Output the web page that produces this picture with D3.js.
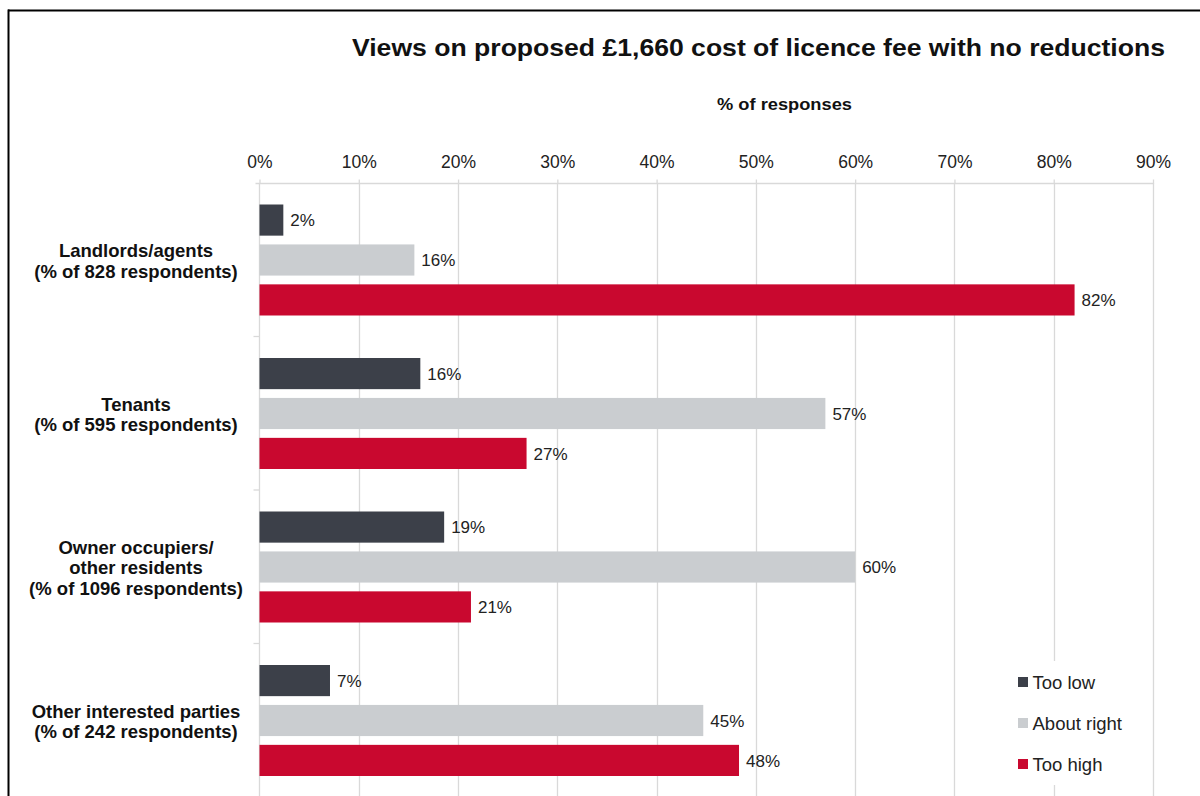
<!DOCTYPE html>
<html>
<head>
<meta charset="utf-8">
<script src="https://cdn.jsdelivr.net/npm/d3@7"></script>
<style>
  html, body { margin: 0; padding: 0; background: #fff; }
  svg { display: block; font-family: "Liberation Sans", Arial, sans-serif; }
</style>
</head>
<body>
<svg id="chart" width="1200" height="796"></svg>
<script>
const title = "Views on proposed £1,660 cost of licence fee with no reductions";
const axisTitle = "% of responses";
const categories = [
  ["Landlords/agents", "(% of 828 respondents)"],
  ["Tenants", "(% of 595 respondents)"],
  ["Owner occupiers/", "other residents", "(% of 1096 respondents)"],
  ["Other interested parties", "(% of 242 respondents)"]
];
const categoryKeys = ["Landlords", "Tenants", "Owners", "Other"];
const seriesNames = ["Too low", "About right", "Too high"];
const seriesColors = ["#3c4049", "#cacdd0", "#c9082f"];
const tooLow = [2.4, 16.2, 18.6, 7.1];
const aboutRight = [15.6, 57.0, 60.0, 44.7];
const tooHigh = [82.1, 26.9, 21.3, 48.3];
const labelsTooLow = ["2%", "16%", "19%", "7%"];
const labelsAboutRight = ["16%", "57%", "60%", "45%"];
const labelsTooHigh = ["82%", "27%", "21%", "48%"];
const xTicks = [0, 10, 20, 30, 40, 50, 60, 70, 80, 90];

const seriesValues = [tooLow, aboutRight, tooHigh];
const seriesLabels = [labelsTooLow, labelsAboutRight, labelsTooHigh];

const svg = d3.select("#chart");

// frame
svg.append("line").attr("x1", 8).attr("x2", 1200).attr("y1", 10.5).attr("y2", 10.5)
  .attr("stroke", "#000").attr("stroke-width", 2);
svg.append("line").attr("x1", 8.5).attr("x2", 8.5).attr("y1", 9.5).attr("y2", 796)
  .attr("stroke", "#000").attr("stroke-width", 2);

const x = d3.scaleLinear().domain([0, 90]).range([259.5, 1153]);
const y0 = d3.scaleBand().domain(categoryKeys).range([183, 797]).padding(0);
const y1 = d3.scaleBand().domain(seriesNames)
  .range([21.5, y0.bandwidth() - 21]).paddingInner(0.22).paddingOuter(0);

// title
svg.append("text").attr("x", 352).attr("y", 56)
  .attr("font-size", 23).attr("font-weight", "bold").attr("fill", "#111")
  .attr("textLength", 813).attr("lengthAdjust", "spacingAndGlyphs").text(title);
svg.append("text").attr("x", 717).attr("y", 110)
  .attr("font-size", 17).attr("font-weight", "bold").attr("fill", "#111")
  .attr("textLength", 135).attr("lengthAdjust", "spacingAndGlyphs").text(axisTitle);

// gridlines
svg.append("g").selectAll("line").data(xTicks.slice(1)).join("line")
  .attr("x1", d => Math.round(x(d)) + 0.5).attr("x2", d => Math.round(x(d)) + 0.5)
  .attr("y1", 183).attr("y2", 796)
  .attr("stroke", "#d9d9d9").attr("stroke-width", 1.3);

// x axis (top)
const xAxis = d3.axisTop(x).tickValues(xTicks).tickFormat(d => d + "%").tickSize(4).tickSizeOuter(0);
const gx = svg.append("g").attr("transform", "translate(0,183.5)").call(xAxis);
gx.select(".domain").attr("stroke", "#d9d9d9").attr("stroke-width", 1.3)
  .attr("d", `M${x(0) - 4},0H${x(90)}`);
gx.selectAll(".tick line").attr("stroke", "#d9d9d9").attr("stroke-width", 1.3);
gx.selectAll(".tick text").attr("font-size", 17.5).attr("fill", "#222")
  .attr("font-family", "Liberation Sans, Arial, sans-serif").attr("dy", "-0.5em");

// y axis
const gy = svg.append("g").attr("transform", `translate(${x(0)},0)`);
gy.append("line").attr("x1", 0).attr("x2", 0).attr("y1", 183).attr("y2", 796)
  .attr("stroke", "#d9d9d9").attr("stroke-width", 1.3);
const boundaries = categoryKeys.map(k => y0(k)).concat([y0.range()[1]]);
gy.selectAll("line.b").data(boundaries.slice(1, 4)).join("line").attr("class", "b")
  .attr("x1", -6).attr("x2", 0).attr("y1", d => d).attr("y2", d => d)
  .attr("stroke", "#d9d9d9").attr("stroke-width", 1.3);

// category labels
categoryKeys.forEach((k, i) => {
  const lines = categories[i];
  const cy = y0(k) + y0.bandwidth() / 2;
  const lh = 20.5;
  const t = svg.append("text").attr("text-anchor", "middle").attr("font-size", 18.5)
    .attr("font-weight", "bold").attr("fill", "#111");
  lines.forEach((ln, j) => {
    t.append("tspan").attr("x", 136)
      .attr("y", cy + (j - (lines.length - 1) / 2) * lh + 7.5).text(ln);
  });
});

// legend background
svg.append("rect").attr("x", 1005).attr("y", 661).attr("width", 135).attr("height", 124).attr("fill", "#fff");

// bars
categoryKeys.forEach((k, i) => {
  const g = svg.append("g").attr("transform", `translate(0,${y0(k)})`);
  seriesNames.forEach((s, j) => {
    const v = seriesValues[j][i];
    g.append("rect").attr("x", x(0)).attr("y", y1(s))
      .attr("width", x(v) - x(0)).attr("height", y1.bandwidth())
      .attr("fill", seriesColors[j]);
    g.append("text").attr("x", x(v) + 7).attr("y", y1(s) + y1.bandwidth() / 2)
      .attr("dy", "0.36em").attr("font-size", 17).attr("fill", "#222")
      .text(seriesLabels[j][i]);
  });
});

// legend
const lg = svg.append("g");
seriesNames.forEach((s, j) => {
  const cy = 682 + j * 41;
  lg.append("rect").attr("x", 1018).attr("y", cy - 5).attr("width", 10).attr("height", 10)
    .attr("fill", seriesColors[j]);
  lg.append("text").attr("x", 1032.5).attr("y", cy).attr("dy", "0.36em")
    .attr("font-size", 18.5).attr("fill", "#222").text(s);
});
</script>
</body>
</html>
